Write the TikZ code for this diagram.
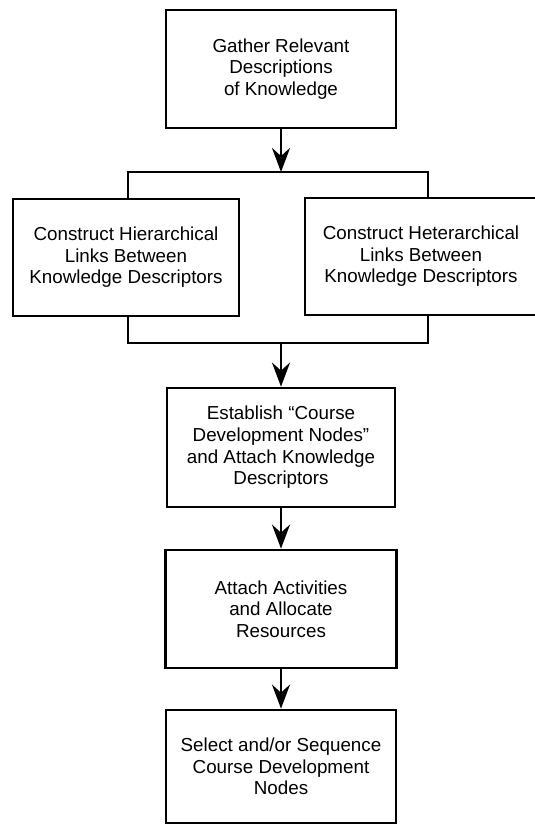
\documentclass[tikz,border=0pt]{standalone}
\usepackage{fontspec}
\setmainfont{Liberation Sans}
\usetikzlibrary{arrows.meta}

\tikzset{
  caja/.style 2 args={draw,line width=1.4pt,minimum width=#1,minimum height=#2,
    inner sep=0pt,align=center,font=\fontsize{9.4}{10.8}\selectfont},
  linea/.style={line width=1.4pt},
  flecha/.style={line width=1.4pt,-{Stealth[length=12pt,width=9pt,inset=4pt]}}
}

\begin{document}
\begin{tikzpicture}[x=0.5pt,y=-0.5pt]
        % Paso 1: Fija el marco de la figura
        \useasboundingbox (0,0) rectangle (535,826);

        % Paso 2: Coloca las cajas de cada etapa
        \node[caja={115pt}{59pt}] (gather) at (281,69) {Gather Relevant\\Descriptions\\of Knowledge};
        \node[caja={113pt}{58.5pt}] (hier) at (126,257.5) {Construct Hierarchical\\Links Between\\Knowledge Descriptors};
        \node[caja={116pt}{58.5pt}] (heter) at (421,256.5) {Construct Heterarchical\\Links Between\\Knowledge Descriptors};
        \node[caja={114pt}{59.5pt}] (establish) at (281,447.5) {Establish ``Course\\Development Nodes''\\and Attach Knowledge\\Descriptors};
        \node[caja={115.5pt}{59pt}] (attach) at (281,609) {Attach Activities\\and Allocate\\Resources};
        \node[caja={115pt}{56.5pt}] (select) at (281,766.5) {Select and/or Sequence\\Course Development\\Nodes};

        % Paso 3: Define los puntos de las llaves
        \coordinate (arriba) at (281,172);
        \coordinate (arribaIzq) at (128,172);
        \coordinate (arribaDer) at (428,172);
        \coordinate (abajo) at (281,343);
        \coordinate (abajoIzq) at (128,343);
        \coordinate (abajoDer) at (428,343);

        % Paso 4: Dibuja las llaves entre las dos cajas centrales
        \draw[linea] (hier.north -| arribaIzq) -- (arribaIzq) -- (arribaDer) -- (heter.north -| arribaDer);
        \draw[linea] (hier.south -| abajoIzq) -- (abajoIzq) -- (abajoDer) -- (heter.south -| abajoDer);

        % Paso 5: Dibuja las flechas hacia abajo
        \draw[flecha] (gather) -- (arriba);
        \draw[flecha] (abajo) -- (establish);
        \draw[flecha] (establish) -- (attach);
        \draw[flecha] (attach) -- (select);
\end{tikzpicture}
\end{document}
